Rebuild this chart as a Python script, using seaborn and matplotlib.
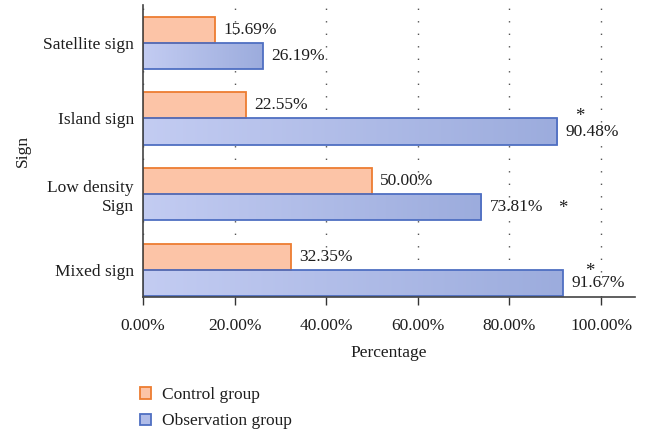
import numpy as np
import pandas as pd
import matplotlib
matplotlib.use("Agg")
import matplotlib.pyplot as plt
from matplotlib.patches import Patch
from matplotlib.colors import LinearSegmentedColormap
import seaborn as sns

categories = ["Satellite sign", "Island sign", "Low density\nSign", "Mixed sign"]
control = [15.69, 22.55, 50.00, 32.35]
observation = [26.19, 90.48, 73.81, 91.67]
significant = [False, True, True, True]
groups = ["Control group", "Observation group"]
x_ticks = [0, 20, 40, 60, 80, 100]

# where each significance star sits relative to the end of its bar (points)
star_offsets = [None, (16, 10.5), (59, -1), (19, 8.5)]

df = pd.DataFrame({
    "Sign": categories * 2,
    "Percentage": control + observation,
    "Group": [groups[0]] * 4 + [groups[1]] * 4,
})

sns.set_style("white")
plt.rcParams["font.family"] = ["Liberation Serif", "DejaVu Serif"]

FS = 12.5
TEXT = "#1e1e1e"
ORANGE_FILL = "#fcc4a7"
ORANGE_EDGE = "#ed7d31"
BLUE_EDGE = "#4f6fc2"
BLUE_MID = "#b0bce8"
blue_cmap = LinearSegmentedColormap.from_list("bluegrad", ["#c3ccf2", "#9cacdd"])

fig = plt.figure(figsize=(6.45, 4.32), dpi=100)
ax = fig.add_axes([0.2217, 0.3125, 0.7628, 0.676])

sns.barplot(data=df, y="Sign", x="Percentage", hue="Group", orient="h",
            palette=[ORANGE_FILL, BLUE_MID], width=0.69, gap=0,
            legend=False, ax=ax)

n = len(categories)
bars = ax.patches[: 2 * n]
ctrl_bars = bars[:n]
obs_bars = bars[n:]

for p in ctrl_bars:
    p.set_facecolor(ORANGE_FILL)
    p.set_edgecolor(ORANGE_EDGE)
    p.set_linewidth(1.3)
    p.set_zorder(3)

# horizontal gradient fill for the observation bars
grad = np.linspace(0, 1, 256).reshape(1, -1)
for p in obs_bars:
    p.set_facecolor("none")
    p.set_edgecolor(BLUE_EDGE)
    p.set_linewidth(1.3)
    p.set_zorder(3)
    x0, y0 = p.get_x(), p.get_y()
    w, h = p.get_width(), p.get_height()
    im = ax.imshow(grad, cmap=blue_cmap, aspect="auto",
                   extent=(x0, x0 + w, y0 + h, y0), zorder=2.5,
                   interpolation="bilinear")
    im.set_clip_path(p)

ax.set_xlim(0, 107.4)
ax.set_ylim(3.36, -0.5)

# value labels
for p, v in zip(ctrl_bars, control):
    ax.annotate(f"{v:.2f}%", (p.get_x() + p.get_width(), p.get_y() + p.get_height() / 2),
                xytext=(6, 0), textcoords="offset points", va="center", ha="left",
                fontsize=FS, color=TEXT)
for p, v, sig, off in zip(obs_bars, observation, significant, star_offsets):
    xe = p.get_x() + p.get_width()
    yc = p.get_y() + p.get_height() / 2
    ax.annotate(f"{v:.2f}%", (xe, yc), xytext=(6, 0), textcoords="offset points",
                va="center", ha="left", fontsize=FS, color=TEXT)
    if sig:
        ax.annotate("*", (xe, yc), xytext=off, textcoords="offset points",
                    va="center", ha="center", fontsize=FS + 1, color=TEXT)

ax.set_xticks(x_ticks)
ax.set_xticklabels([f"{t:.2f}%" for t in x_ticks])
ax.xaxis.grid(True, linestyle=(0, (1, 8)), color="#555555", linewidth=1.0)
ax.set_axisbelow(True)
ax.tick_params(axis="x", which="both", bottom=True, length=6, width=1,
               color="#333333", labelsize=FS, pad=9, labelcolor=TEXT)
ax.tick_params(axis="y", left=False, labelsize=FS, pad=3, labelcolor=TEXT)
for lbl in ax.get_yticklabels():
    lbl.set_multialignment("right")
    lbl.set_linespacing(1.25)

for s in ["top", "right"]:
    ax.spines[s].set_visible(False)
for s in ["left", "bottom"]:
    ax.spines[s].set_color("#444444")
    ax.spines[s].set_linewidth(1.2)
    ax.spines[s].set_zorder(4)

ax.set_xlabel("Percentage", fontsize=FS, color=TEXT, labelpad=8)
ax.set_ylabel("Sign", fontsize=FS, color=TEXT, labelpad=9)

handles = [
    Patch(facecolor=ORANGE_FILL, edgecolor=ORANGE_EDGE, linewidth=1.3, label=groups[0]),
    Patch(facecolor=BLUE_MID, edgecolor=BLUE_EDGE, linewidth=1.3, label=groups[1]),
]
fig.legend(handles=handles, loc="upper left", bbox_to_anchor=(0.217, 0.104),
           bbox_transform=fig.transFigure, frameon=False, fontsize=FS,
           handlelength=0.65, handleheight=0.65, handletextpad=0.6,
           labelspacing=0.6, borderaxespad=0, borderpad=0,
           labelcolor=TEXT)

fig.savefig("out.png", dpi=100)
